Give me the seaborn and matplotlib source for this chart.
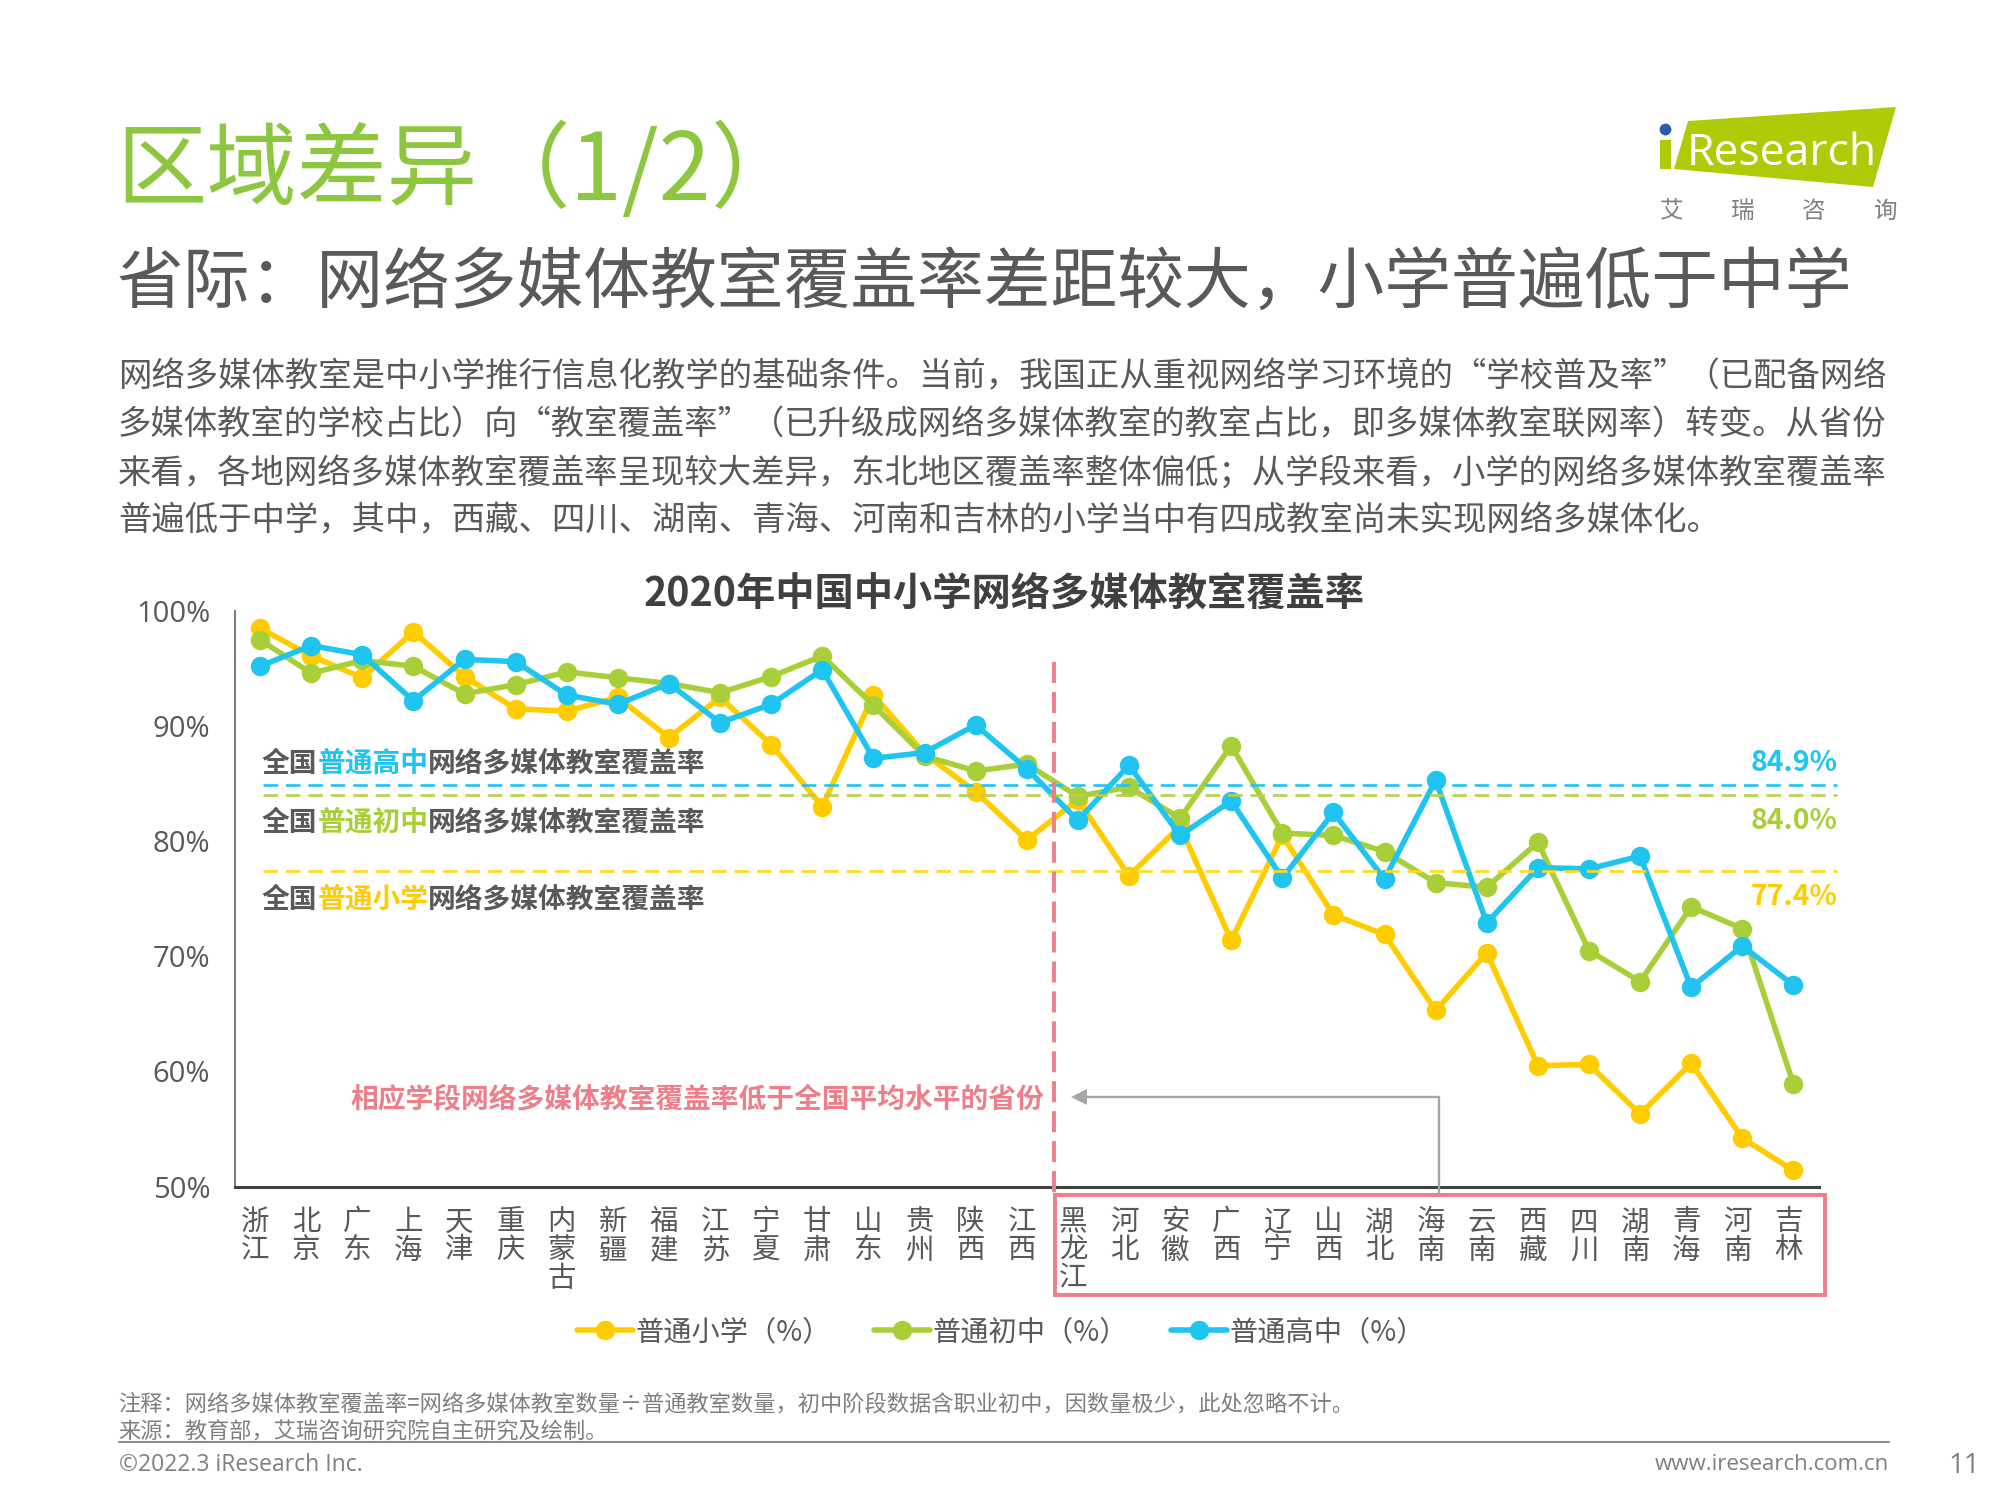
import matplotlib.pyplot as plt
import pandas as pd
import seaborn as sns
from matplotlib.lines import Line2D
from matplotlib.patches import Polygon, Rectangle
from matplotlib.transforms import ScaledTranslation

provinces = ["浙江", "北京", "广东", "上海", "天津", "重庆", "内蒙古", "新疆", "福建", "江苏", "宁夏",
             "甘肃", "山东", "贵州", "陕西", "江西", "黑龙江", "河北", "安徽", "广西", "辽宁", "山西",
             "湖北", "海南", "云南", "西藏", "四川", "湖南", "青海", "河南", "吉林"]
primary = [98.5, 96.1, 94.2, 98.2, 94.3, 91.5, 91.3, 92.5, 89.0, 92.5, 88.4,
           83.0, 92.7, 87.6, 84.3, 80.1, 83.6, 77.0, 81.3, 71.4, 80.5, 73.6,
           71.9, 65.3, 70.3, 60.5, 60.6, 56.3, 60.7, 54.2, 51.4]
junior = [97.5, 94.6, 95.7, 95.2, 92.8, 93.6, 94.7, 94.2, 93.7, 92.9, 94.3,
          96.1, 91.8, 87.4, 86.1, 86.7, 83.9, 84.7, 82.0, 88.3, 80.7, 80.5,
          79.1, 76.4, 76.0, 79.9, 70.5, 67.8, 74.3, 72.4, 58.9]
senior = [95.2, 97.0, 96.2, 92.2, 95.8, 95.6, 92.7, 91.9, 93.7, 90.3, 91.9,
          94.9, 87.2, 87.7, 90.1, 86.3, 81.8, 86.6, 80.5, 83.5, 76.8, 82.5,
          76.7, 85.3, 72.9, 77.7, 77.6, 78.7, 67.3, 70.9, 67.5]
series_names = ["普通小学（%）", "普通初中（%）", "普通高中（%）"]
national_avg = [77.4, 84.0, 84.9]
y_ticks = [50, 60, 70, 80, 90, 100]

YELLOW = "#FFCC00"
GREEN = "#A9CF38"
BLUE = "#1FC4F0"
PINK = "#EC7F8A"
GREY = "#595959"
TITLE_GREEN = "#8DC73F"


# positions below are pixels of the 2000x1500 page, y going down
def fx(x):
    return x / 2000


def fy(y):
    return 1 - y / 1500


def page_text(x, y, s, size, color=GREY, ha="left", weight="normal", family=None):
    kw = {"family": family} if family else {}
    fig.text(fx(x), fy(y), s, fontsize=size, color=color, ha=ha, va="center", weight=weight, **kw)


sns.set_theme(style="white")
plt.rcParams["font.family"] = ["Noto Sans CJK SC", "DejaVu Sans"]

df = pd.DataFrame({"省份": provinces, series_names[0]: primary, series_names[1]: junior, series_names[2]: senior})
df = df.melt(id_vars="省份", var_name="学段", value_name="覆盖率")

fig = plt.figure(figsize=(20, 15), dpi=100)
ax = fig.add_axes([fx(234.5), fy(1186.5), 1584.5 / 2000, 575.5 / 1500])
sns.lineplot(
    df,
    x="省份",
    y="覆盖率",
    hue="学段",
    palette=[YELLOW, GREEN, BLUE],
    sort=False,
    estimator=None,
    marker="o",
    markersize=14,
    markeredgewidth=0,
    linewidth=4,
    ax=ax,
)
ax.set_xlim(-0.5, 30.5)
ax.set_ylim(50, 100)
ax.set_xlabel("")
ax.set_ylabel("")
ax.set_yticks(y_ticks)
ax.set_yticklabels([f"{v}%" for v in y_ticks], fontsize=21, color=GREY, family="Open Sans")
ax.set_xticks(range(len(provinces)))
ax.set_xticklabels(["\n".join(p) for p in provinces], fontsize=20.5, color=GREY, va="top", linespacing=0.92)
ax.tick_params(axis="both", length=0)
ax.tick_params(axis="x", pad=15)
ax.tick_params(axis="y", pad=17.5)
# the province names sit a little left of their points
shift = ScaledTranslation(-5 / 100, 0, fig.dpi_scale_trans)
for label in ax.get_xticklabels():
    label.set_transform(label.get_transform() + shift)
sns.despine(ax=ax)
ax.spines["left"].set_color("#7F7F7F")
ax.spines["left"].set_linewidth(1.5)
ax.spines["bottom"].set_color("#404040")
ax.spines["bottom"].set_linewidth(2.2)

handles, labels = ax.get_legend_handles_labels()
ax.legend(
    handles,
    labels,
    ncol=3,
    frameon=False,
    fontsize=20.3,
    labelcolor=GREY,
    handlelength=2.0,
    handletextpad=0.1,
    columnspacing=1.5,
    loc="center",
    bbox_to_anchor=(fx(1001), fy(1332)),
    bbox_transform=fig.transFigure,
)

# national average lines
for avg, color in zip(national_avg, ["#FFD91A", "#B9CF4E", BLUE]):
    ax.plot([0.06, 30.86], [avg, avg], color=color, lw=1.9, dashes=(5.5, 3), clip_on=False, zorder=5)
ax.plot([15.53, 15.53], [95.6, 49.2], color=PINK, lw=2.8, dashes=(5.4, 2.3), clip_on=False, zorder=5)

page_text(116, 172, "区域差异", 65, color=TITLE_GREEN, weight="light")
page_text(477, 172, "（1/2）", 67.5, color=TITLE_GREEN, weight="light")
page_text(117, 285, "省际：网络多媒体教室覆盖率差距较大，小学普遍低于中学", 48.1, weight="light")
body = [
    "网络多媒体教室是中小学推行信息化教学的基础条件。当前，我国正从重视网络学习环境的“学校普及率”（已配备网络",
    "多媒体教室的学校占比）向“教室覆盖率”（已升级成网络多媒体教室的教室占比，即多媒体教室联网率）转变。从省份",
    "来看，各地网络多媒体教室覆盖率呈现较大差异，东北地区覆盖率整体偏低；从学段来看，小学的网络多媒体教室覆盖率",
    "普遍低于中学，其中，西藏、四川、湖南、青海、河南和吉林的小学当中有四成教室尚未实现网络多媒体化。",
]
for y, line in zip([377, 425, 473.5, 521], body):
    page_text(118, y, line, 24)
page_text(1004, 594, "2020年中国中小学网络多媒体教室覆盖率", 28.3, color="#404040", ha="center", weight="bold")

# three-colour captions
char_w = 27.7
for y, part, color in [(764, "普通高中", BLUE), (823, "普通初中", GREEN), (900, "普通小学", YELLOW)]:
    page_text(262, y, "全国", 20, weight="bold")
    page_text(262 + 2 * char_w, y, part, 20, color=color, weight="bold")
    page_text(262 + 6 * char_w, y, "网络多媒体教室覆盖率", 20, weight="bold")
for y, s, color in [(763, "84.9%", BLUE), (821, "84.0%", GREEN), (897, "77.4%", YELLOW)]:
    page_text(1838, y, s, 20.5, color=color, ha="right", weight="bold")

page_text(1044, 1100, "相应学段网络多媒体教室覆盖率低于全国平均水平的省份", 20, color=PINK, ha="right", weight="bold")

# callout box and arrow
fig.add_artist(Rectangle((fx(1055), fy(1295)), 770 / 2000, 100 / 1500, transform=fig.transFigure,
                         fill=False, edgecolor=PINK, lw=2.8))
fig.add_artist(Line2D([fx(1439), fx(1439), fx(1085)], [fy(1195), fy(1097), fy(1097)], color="#A6A6A6", lw=1.7))
fig.add_artist(Line2D([fx(1079)], [fy(1097)], marker="<", markersize=12, color="#A6A6A6", markeredgewidth=0))

# logo
fig.add_artist(Polygon([(fx(1688), fy(121)), (fx(1896), fy(107)), (fx(1873), fy(187)), (fx(1674), fy(169))],
                       transform=fig.transFigure, facecolor="#AFCB08", edgecolor="none"))
fig.add_artist(Rectangle((fx(1660), fy(169)), 10.7 / 2000, 29 / 1500, transform=fig.transFigure,
                         facecolor="#AFCB08", edgecolor="none"))
fig.add_artist(Line2D([fx(1665)], [fy(129)], marker="o", markersize=8.5, color="#2A5CAA", markeredgewidth=0))
page_text(1687, 154, "Research", 32, color="white", family="Open Sans")
for x, ch in zip([1672, 1743, 1814, 1885], "艾瑞咨询"):
    page_text(x, 211, ch, 17, color="#808080", ha="center")

# footer
page_text(118, 1405, "注释：网络多媒体教室覆盖率=网络多媒体教室数量÷普通教室数量，初中阶段数据含职业初中，因数量极少，此处忽略不计。", 16, color="#7F7F7F")
page_text(118, 1432, "来源：教育部，艾瑞咨询研究院自主研究及绘制。", 16, color="#7F7F7F")
fig.add_artist(Line2D([fx(119), fx(1889)], [fy(1442), fy(1442)], color="#8C8C8C", lw=1.5))
page_text(119, 1465, "©2022.3 iResearch Inc.", 16.5, color="#7F7F7F", family="Open Sans")
page_text(1889, 1465, "www.iresearch.com.cn", 16, color="#7F7F7F", ha="right", family="Open Sans")
page_text(1948, 1466, "11", 20, color="#7F7F7F", family="Open Sans")

fig.savefig("out.png", dpi=100)
